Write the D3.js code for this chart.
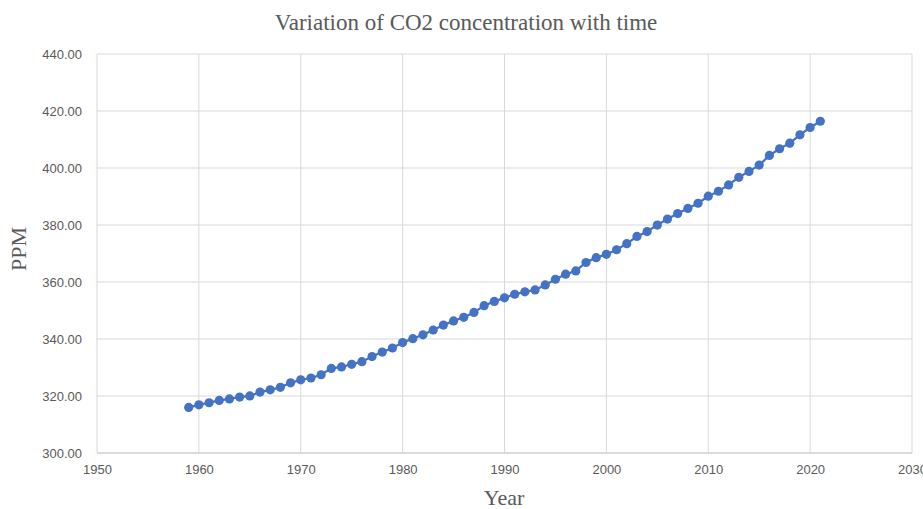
<!DOCTYPE html>
<meta charset="utf-8">
<script src="https://d3js.org/d3.v7.min.js"></script>
<style>
  body { margin: 0; background: #fff; }
  .tick text { font-family: "Liberation Sans", Arial, sans-serif; font-size: 13px; fill: #595959; }
  .serif { font-family: "Liberation Serif", "Times New Roman", serif; fill: #595959; }
</style>
<div id="chart"></div>
<script>

// annual mean CO2 (ppm)
var years = [1959, 1960, 1961, 1962, 1963, 1964, 1965, 1966, 1967, 1968,
             1969, 1970, 1971, 1972, 1973, 1974, 1975, 1976, 1977, 1978,
             1979, 1980, 1981, 1982, 1983, 1984, 1985, 1986, 1987, 1988,
             1989, 1990, 1991, 1992, 1993, 1994, 1995, 1996, 1997, 1998,
             1999, 2000, 2001, 2002, 2003, 2004, 2005, 2006, 2007, 2008,
             2009, 2010, 2011, 2012, 2013, 2014, 2015, 2016, 2017, 2018,
             2019, 2020, 2021];
var ppm = [315.98, 316.91, 317.64, 318.45, 318.99, 319.62, 320.04, 321.37, 322.18, 323.05,
           324.62, 325.68, 326.32, 327.46, 329.68, 330.19, 331.13, 332.03, 333.84, 335.41,
           336.84, 338.76, 340.12, 341.48, 343.15, 344.87, 346.35, 347.61, 349.31, 351.69,
           353.20, 354.45, 355.70, 356.54, 357.21, 358.96, 360.97, 362.74, 363.88, 366.84,
           368.54, 369.71, 371.32, 373.45, 375.98, 377.70, 379.98, 382.09, 384.02, 385.83,
           387.64, 390.10, 391.85, 394.06, 396.74, 398.81, 401.01, 404.41, 406.76, 408.72,
           411.65, 414.21, 416.41];
var xTicks = [1950, 1960, 1970, 1980, 1990, 2000, 2010, 2020, 2030];
var yTicks = [300, 320, 340, 360, 380, 400, 420, 440];

var data = years.map(function(y, i) { return { year: y, value: ppm[i] }; });

var W = 923, H = 509;
var margin = {top: 54, right: 11, bottom: 56, left: 97},
    width = W - margin.left - margin.right,
    height = H - margin.top - margin.bottom;

var root = d3.select("#chart")
  .append("svg")
    .attr("width", W)
    .attr("height", H);

var svg = root.append("g")
    .attr("transform", "translate(" + margin.left + "," + margin.top + ")");

var x = d3.scaleLinear().domain([1950, 2030]).range([0, width]);
var y = d3.scaleLinear().domain([300, 440]).range([height, 0]);

// gridlines
svg.append("g")
  .selectAll("line.v")
  .data(xTicks)
  .join("line")
    .attr("x1", function(d) { return x(d); })
    .attr("x2", function(d) { return x(d); })
    .attr("y1", 0)
    .attr("y2", height)
    .attr("stroke", "#d9d9d9")
    .attr("stroke-width", 1);

svg.append("g")
  .selectAll("line.h")
  .data(yTicks)
  .join("line")
    .attr("x1", 0)
    .attr("x2", width)
    .attr("y1", function(d) { return y(d); })
    .attr("y2", function(d) { return y(d); })
    .attr("stroke", function(d) { return d == 300 ? "#cfcfcf" : "#d9d9d9"; })
    .attr("stroke-width", function(d) { return d == 300 ? 1.5 : 1; });

// axes (labels only)
svg.append("g")
  .attr("transform", "translate(0," + height + ")")
  .call(d3.axisBottom(x).tickValues(xTicks).tickFormat(d3.format("d")).tickSize(0).tickPadding(12))
  .call(function(g) { g.select(".domain").remove(); });

svg.append("g")
  .call(d3.axisLeft(y).tickValues(yTicks).tickFormat(d3.format(".2f")).tickSize(0).tickPadding(15))
  .call(function(g) { g.select(".domain").remove(); });

// line + markers
svg.append("path")
  .datum(data)
  .attr("fill", "none")
  .attr("stroke", "#4472C4")
  .attr("stroke-width", 2.25)
  .attr("d", d3.line()
    .x(function(d) { return x(d.year); })
    .y(function(d) { return y(d.value); }));

svg.append("g")
  .selectAll("circle")
  .data(data)
  .join("circle")
    .attr("cx", function(d) { return x(d.year); })
    .attr("cy", function(d) { return y(d.value); })
    .attr("r", 4.6)
    .attr("fill", "#4472C4");

// title and axis titles
root.append("text")
  .attr("class", "serif")
  .attr("x", 466)
  .attr("y", 30)
  .attr("text-anchor", "middle")
  .style("font-size", "23px")
  .text("Variation of CO2 concentration with time");

root.append("text")
  .attr("class", "serif")
  .attr("x", 504)
  .attr("y", 505)
  .attr("text-anchor", "middle")
  .style("font-size", "22px")
  .text("Year");

root.append("text")
  .attr("class", "serif")
  .attr("transform", "translate(26,249) rotate(-90)")
  .attr("text-anchor", "middle")
  .style("font-size", "22px")
  .text("PPM");

</script>
